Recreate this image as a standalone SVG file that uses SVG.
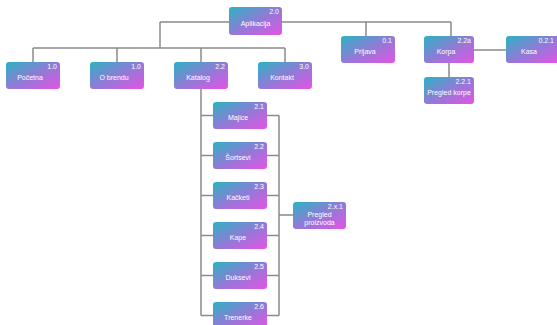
<svg xmlns="http://www.w3.org/2000/svg" width="557" height="325" viewBox="0 0 557 325">
<defs>
<linearGradient id="g" x1="0" y1="0" x2="1" y2="1">
<stop offset="0" stop-color="#2bb3c2"/>
<stop offset="0.5" stop-color="#8f7bd6"/>
<stop offset="1" stop-color="#e553e6"/>
</linearGradient>
</defs>
<style>
rect.n{fill:url(#g);}
text{font-family:"Liberation Sans",Arial,sans-serif;fill:#fff;font-size:7px;}
.num{text-anchor:end;}
.lbl{text-anchor:middle;}
#connectors path{stroke:#8a8a8a;stroke-width:1.5;fill:none;}
</style>
<rect width="557" height="325" fill="#fff"/>
<g id="connectors">
<path d="M160 22H451M160 22V48M33 48H285M33 48V62M117 48V62M201 48V62M285 48V62M366 22V36M451 22V36M474 50H506M449 63V77"/>
<path d="M201 89V315.5M201 115.5H213M201 155.5H213M201 195.5H213M201 235.5H213M201 275.5H213M201 315.5H213"/>
<path d="M267 115.5H279M267 155.5H279M267 195.5H279M267 235.5H279M267 275.5H279M267 315.5H279M279 115.5V315.5M279 215H293"/>
</g>
<g id="n-aplikacija"><rect class="n" x="229" y="7" width="53" height="28" rx="3"/><text class="num" x="279" y="14">2.0</text><text class="lbl" x="255.5" y="26">Aplikacija</text></g>
<g id="n-pocetna"><rect class="n" x="6" y="62" width="54" height="27" rx="3"/><text class="num" x="57" y="69">1.0</text><text class="lbl" x="30" y="80">Početna</text></g>
<g id="n-obrendu"><rect class="n" x="90" y="62" width="54" height="27" rx="3"/><text class="num" x="141" y="69">1.0</text><text class="lbl" x="114" y="80">O brendu</text></g>
<g id="n-katalog"><rect class="n" x="174" y="62" width="54" height="27" rx="3"/><text class="num" x="225" y="69">2.2</text><text class="lbl" x="198" y="80">Katalog</text></g>
<g id="n-kontakt"><rect class="n" x="258" y="62" width="54" height="27" rx="3"/><text class="num" x="309" y="69">3.0</text><text class="lbl" x="282" y="80">Kontakt</text></g>
<g id="n-prijava"><rect class="n" x="341" y="36" width="54" height="27" rx="3"/><text class="num" x="392" y="43">0.1</text><text class="lbl" x="365" y="54">Prijava</text></g>
<g id="n-korpa"><rect class="n" x="424" y="36" width="50" height="27" rx="3"/><text class="num" x="471" y="43">2.2a</text><text class="lbl" x="446" y="54">Korpa</text></g>
<g id="n-kasa"><rect class="n" x="506" y="36" width="54" height="27" rx="3"/><text class="num" x="554" y="43">0.2.1</text><text class="lbl" x="529" y="54">Kasa</text></g>
<g id="n-pregled-korpe"><rect class="n" x="424" y="77" width="50" height="27" rx="3"/><text class="num" x="471" y="84">2.2.1</text><text class="lbl" x="449" y="95">Pregled korpe</text></g>
<g id="n-majice"><rect class="n" x="213" y="102" width="54" height="27" rx="3"/><text class="num" x="264" y="109">2.1</text><text class="lbl" x="238" y="120">Majice</text></g>
<g id="n-sortsevi"><rect class="n" x="213" y="142" width="54" height="27" rx="3"/><text class="num" x="264" y="149">2.2</text><text class="lbl" x="238" y="160">Šortsevi</text></g>
<g id="n-kacketi"><rect class="n" x="213" y="182" width="54" height="27" rx="3"/><text class="num" x="264" y="189">2.3</text><text class="lbl" x="238" y="200">Kačketi</text></g>
<g id="n-kape"><rect class="n" x="213" y="222" width="54" height="27" rx="3"/><text class="num" x="264" y="229">2.4</text><text class="lbl" x="238" y="240">Kape</text></g>
<g id="n-duksevi"><rect class="n" x="213" y="262" width="54" height="27" rx="3"/><text class="num" x="264" y="269">2.5</text><text class="lbl" x="238" y="280">Duksevi</text></g>
<g id="n-trenerke"><rect class="n" x="213" y="302" width="54" height="27" rx="3"/><text class="num" x="264" y="309">2.6</text><text class="lbl" x="238" y="320">Trenerke</text></g>
<g id="n-pregled-proizvoda"><rect class="n" x="293" y="202" width="53" height="27" rx="3"/><text class="num" x="343" y="209">2.x.1</text><text class="lbl" x="319.5" y="217">Pregled</text><text class="lbl" x="319.5" y="225">proizvoda</text></g>
</svg>
